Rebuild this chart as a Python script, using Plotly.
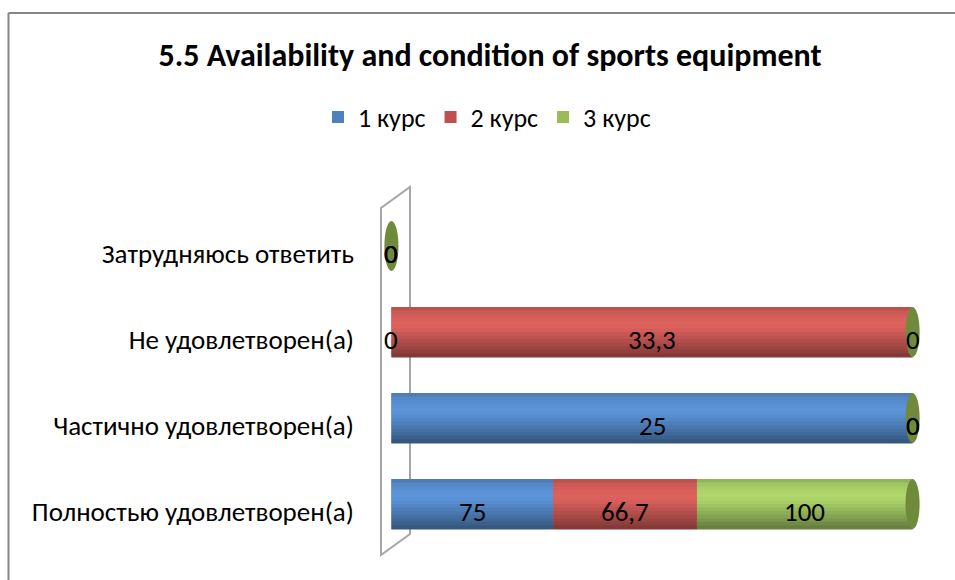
import numpy as np
import plotly.graph_objects as go

categories = ["Полностью удовлетворен(а)", "Частично удовлетворен(а)",
              "Не удовлетворен(а)", "Затрудняюсь ответить"]
series_names = ["1 курс", "2 курс", "3 курс"]
kurs1 = [75, 25, 0, 0]
kurs2 = [66.7, 0, 33.3, 0]
kurs3 = [100, 0, 0, 0]

title_text = "5.5 Availability and condition of sports equipment"

base_colors = ["#4F81BD", "#C0504D", "#9BBB59"]
light_colors = [(92, 149, 218), (222, 98, 94), (176, 216, 108)]
cap_color = "#6F8A3B"
FONT = "Calibri, Carlito, Lato, sans-serif"

vals = np.array([kurs1, kurs2, kurs3], dtype=float)
totals = vals.sum(axis=0)
safe = np.where(totals == 0, 1, totals)
pct = vals / safe * 100
bases = np.vstack([np.zeros(len(categories)), np.cumsum(pct, axis=0)[:-1]])

ypos = np.arange(len(categories))
W = 0.58

# cylinder shading profile, top (0) -> bottom (1)
prof_t = [0.0, 0.12, 0.3, 0.42, 0.6, 0.8, 1.0]
prof_f = [0.80, 0.93, 1.0, 0.98, 0.86, 0.72, 0.56]
N = 14

def shade(rgb, f):
    r, g, b = (int(max(0, min(255, c * f))) for c in rgb)
    return f"rgb({r},{g},{b})"

fig = go.Figure()
for i, name in enumerate(series_names):
    fig.add_trace(go.Bar(
        y=ypos, x=pct[i], base=bases[i], orientation="h", width=W,
        marker=dict(color=base_colors[i], line=dict(width=0)),
        name=name, legendgroup=name, hoverinfo="skip",
    ))
    sw = W / N
    for k in range(N):
        t = (k + 0.5) / N
        f = float(np.interp(t, prof_t, prof_f))
        top = W / 2 - k * sw
        fig.add_trace(go.Bar(
            y=ypos, x=pct[i], base=bases[i], orientation="h",
            width=sw * 1.15, offset=top - sw * 1.15,
            marker=dict(color=shade(light_colors[i], f), line=dict(width=0)),
            name=name, showlegend=False, legendgroup=name, hoverinfo="skip",
        ))

def fmt(v):
    s = f"{v:g}"
    return s.replace(".", ",")

annotations = []
for i in range(len(series_names)):
    for j in range(len(categories)):
        annotations.append(dict(
            x=bases[i][j] + pct[i][j] / 2, y=ypos[j], xref="x", yref="y",
            text=fmt(vals[i][j]), showarrow=False, yshift=-7,
            font=dict(family=FONT, size=27, color="#000000"),
        ))

# geometry helpers (pixel -> paper)
L, R, T, B = 381, 32, 203, 33
PW, PH = 955 - L - R, 580 - T - B
def px(x): return (x - L) / PW
def py(y): return (580 - B - y) / PH

shapes = []
# 3D back wall
shapes.append(dict(type="path", xref="paper", yref="paper",
                   path=f"M {px(381)},{py(555)} L {px(381)},{py(208)} L {px(410)},{py(187)} L {px(410)},{py(534)} Z",
                   line=dict(color="#A6A6A6", width=2), fillcolor="rgba(0,0,0,0)", layer="below"))
# outer chart frame (left + top)
shapes.append(dict(type="line", xref="paper", yref="paper",
                   x0=px(8.5), y0=py(13), x1=px(960), y1=py(13),
                   line=dict(color="#868686", width=2)))
shapes.append(dict(type="line", xref="paper", yref="paper",
                   x0=px(8.5), y0=py(13), x1=px(8.5), y1=py(590),
                   line=dict(color="#868686", width=2)))
# end caps of cylinders
cap_w = 1.35
for j in range(len(categories)):
    end = bases[-1][j] + pct[-1][j]
    shapes.append(dict(type="circle", xref="x", yref="y",
                       x0=end - cap_w, x1=end + cap_w, y0=ypos[j] - W / 2, y1=ypos[j] + W / 2,
                       fillcolor=cap_color, line=dict(width=0), layer="above"))

fig.update_layout(
    width=955, height=580,
    margin=dict(l=L, r=R, t=T, b=B, autoexpand=False),
    paper_bgcolor="white", plot_bgcolor="white",
    barmode="overlay",
    title=dict(text=f"<b>{title_text}</b>", x=490 / 955, xanchor="center",
               y=1 - 55 / 580, yanchor="middle", yref="container",
               font=dict(family=FONT, size=32, color="#000000")),
    legend=dict(orientation="h", x=px(487), xanchor="center", y=py(117), yanchor="middle",
                font=dict(family=FONT, size=26, color="#000000"),
                itemwidth=30, traceorder="normal"),
    xaxis=dict(range=[-2, 102], visible=False, fixedrange=True),
    yaxis=dict(range=[-0.5, len(categories) - 0.5], tickmode="array",
               tickvals=ypos, ticktext=categories, showgrid=False, zeroline=False,
               showline=False, ticks="", ticklabelstandoff=26, ticklabelshift=8,
               automargin=False, fixedrange=True,
               tickfont=dict(family=FONT, size=27, color="#000000")),
    annotations=annotations,
    shapes=shapes,
    font=dict(family=FONT),
)

fig.write_html("out.html", config={"displayModeBar": False},
               post_script="document.body.style.margin='0';document.body.style.overflow='hidden';")
